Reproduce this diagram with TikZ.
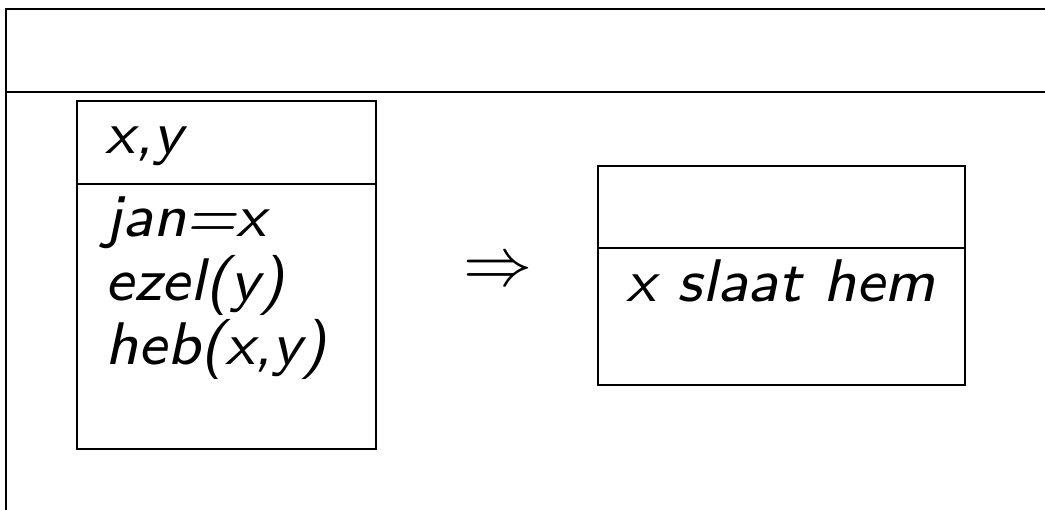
\documentclass[tikz,border=0pt]{standalone}
\usepackage{graphicx}
\usetikzlibrary{positioning}

\newcommand{\drsfont}[1]{\scalebox{1.88}{\fontsize{8}{9.6}\selectfont\sffamily\slshape #1}}
\tikzset{
  frameline/.style={line width=0.6pt},
  boxline/.style={line width=0.55pt},
  drstxt/.style={anchor=base west, inner sep=0pt}
}

\begin{document}
\begin{tikzpicture}[x=0.25pt,y=-0.25pt]
\useasboundingbox (0,0) rectangle (1045,510);
\clip (0,0) rectangle (1045,510);
% outer frame
\draw[frameline] (6,540) -- (6,9) -- (1080,9);
\draw[frameline] (6,92) -- (1080,92);
% left box
\coordinate (lnw) at (77,101);
\coordinate (lse) at (376,449);
\draw[boxline] (lnw) rectangle (lse);
\draw[boxline] (77,184) -- (376,184);
\node[drstxt] (xy) at (105,154) {\drsfont{x,y}};
\node[drstxt] (jan) at (105,237) {\drsfont{jan=x}};
\node[drstxt] (ezel) at (105,301) {\drsfont{ezel(y)}};
\node[drstxt] (heb) at (105,365) {\drsfont{heb(x,y)}};
% arrow
\node[inner sep=0pt, font=\fontsize{16.5}{19.8}\selectfont] (impl) at (498,273) {$\Rightarrow$};
% right box
\coordinate (rnw) at (598,166);
\coordinate (rse) at (965,385);
\draw[boxline] (rnw) rectangle (rse);
\draw[boxline] (598,248) -- (965,248);
\node[drstxt] (slaat) at (626,302) {\drsfont{x slaat hem}};
\end{tikzpicture}
\end{document}
